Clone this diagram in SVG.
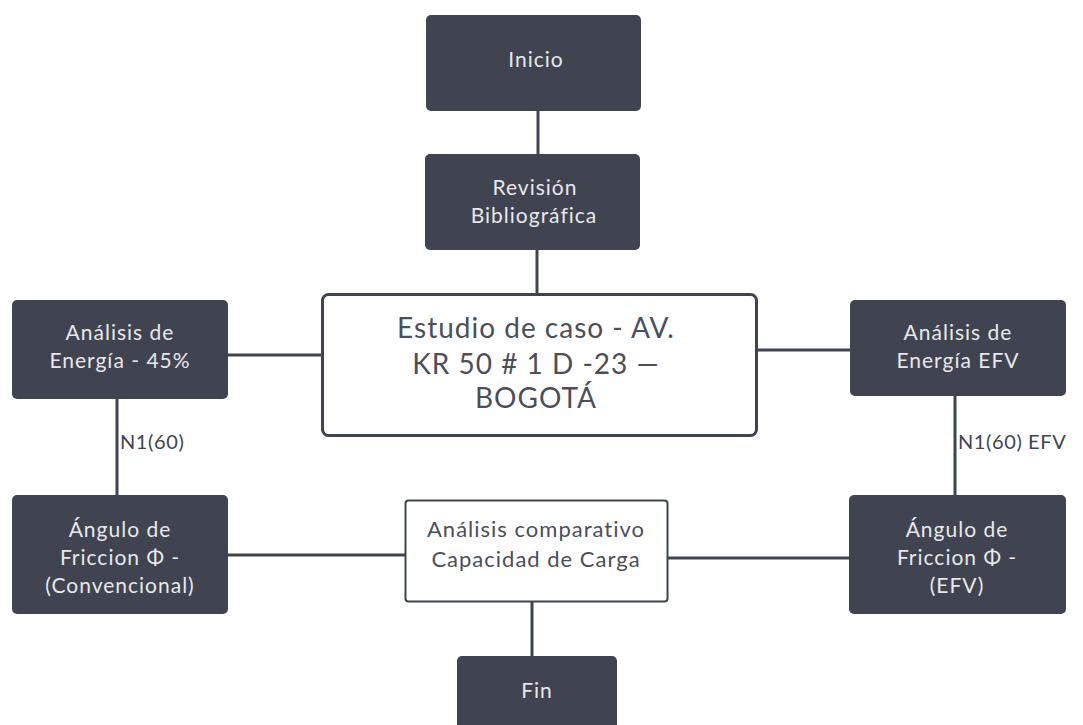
<svg xmlns="http://www.w3.org/2000/svg" width="1083" height="725" viewBox="0 0 1083 725">
<style>
.dk{fill:#3f4450;}
.wh{fill:#ffffff;stroke:#3f4450;}
.tl{font-family:Lato,"Open Sans",sans-serif;font-size:21px;fill:#e8e8ea;text-anchor:middle;letter-spacing:1px;}
.td{font-family:Lato,"Open Sans",sans-serif;fill:#4a4f5a;text-anchor:middle;letter-spacing:1px;}
.lbl{font-family:Lato,"Open Sans",sans-serif;font-size:20px;fill:#3f4450;letter-spacing:0.6px;}
.c{stroke:#3f4450;stroke-width:3;fill:none;}
</style>
<rect width="1083" height="725" fill="#ffffff"/>
<g id="connectors">
<line class="c" x1="538" y1="111" x2="538" y2="155"/>
<line class="c" x1="537" y1="250" x2="537" y2="294"/>
<line class="c" x1="228" y1="355" x2="322" y2="355"/>
<line class="c" x1="757" y1="350" x2="850" y2="350"/>
<line class="c" x1="117" y1="398" x2="117" y2="495"/>
<line class="c" x1="955" y1="396" x2="955" y2="495"/>
<line class="c" x1="228" y1="555" x2="405" y2="555"/>
<line class="c" x1="667" y1="558" x2="849" y2="558"/>
<line class="c" x1="532" y1="601" x2="532" y2="657"/>
<text class="lbl" x="120" y="449">N1(60)</text>
<text class="lbl" x="958" y="449">N1(60)  EFV</text>
</g>
<g id="inicio">
<rect class="dk" x="426" y="15" width="215" height="96" rx="5"/>
<text class="tl" x="536" y="67">Inicio</text>
</g>
<g id="revision">
<rect class="dk" x="425" y="154" width="215" height="96" rx="5"/>
<text class="tl" x="535" y="195">Revisión</text>
<text class="tl" x="534" y="223">Bibliográfica</text>
</g>
<g id="estudio">
<rect class="wh" x="322.5" y="294.5" width="434" height="141" rx="6" stroke-width="3"/>
<text class="td" font-size="28" x="536" y="338">Estudio de caso - AV.</text>
<text class="td" font-size="28" x="536" y="374">KR 50 # 1 D -23 —</text>
<text class="td" font-size="28" x="536" y="408">BOGOTÁ</text>
</g>
<g id="energia-45">
<rect class="dk" x="12" y="300" width="216" height="99" rx="5"/>
<text class="tl" x="120" y="340">Análisis de</text>
<text class="tl" x="120" y="368">Energía - 45%</text>
</g>
<g id="energia-efv">
<rect class="dk" x="850" y="300" width="216" height="96" rx="5"/>
<text class="tl" x="958" y="340">Análisis de</text>
<text class="tl" x="958" y="368">Energía EFV</text>
</g>
<g id="angulo-conv">
<rect class="dk" x="12" y="495" width="216" height="119" rx="5"/>
<text class="tl" x="120" y="537">Ángulo de</text>
<text class="tl" x="120" y="565">Friccion Φ -</text>
<text class="tl" x="120" y="593">(Convencional)</text>
</g>
<g id="angulo-efv">
<rect class="dk" x="849" y="495" width="217" height="119" rx="5"/>
<text class="tl" x="957" y="537">Ángulo de</text>
<text class="tl" x="957" y="565">Friccion Φ -</text>
<text class="tl" x="957" y="593">(EFV)</text>
</g>
<g id="comparativo">
<rect class="wh" x="405.5" y="500.5" width="262" height="101" rx="3" stroke-width="2"/>
<text class="td" font-size="22" x="536" y="537">Análisis comparativo</text>
<text class="td" font-size="22" x="536" y="567">Capacidad de Carga</text>
</g>
<g id="fin">
<rect class="dk" x="457" y="656" width="160" height="80" rx="5"/>
<text class="tl" x="537" y="698">Fin</text>
</g>
</svg>
